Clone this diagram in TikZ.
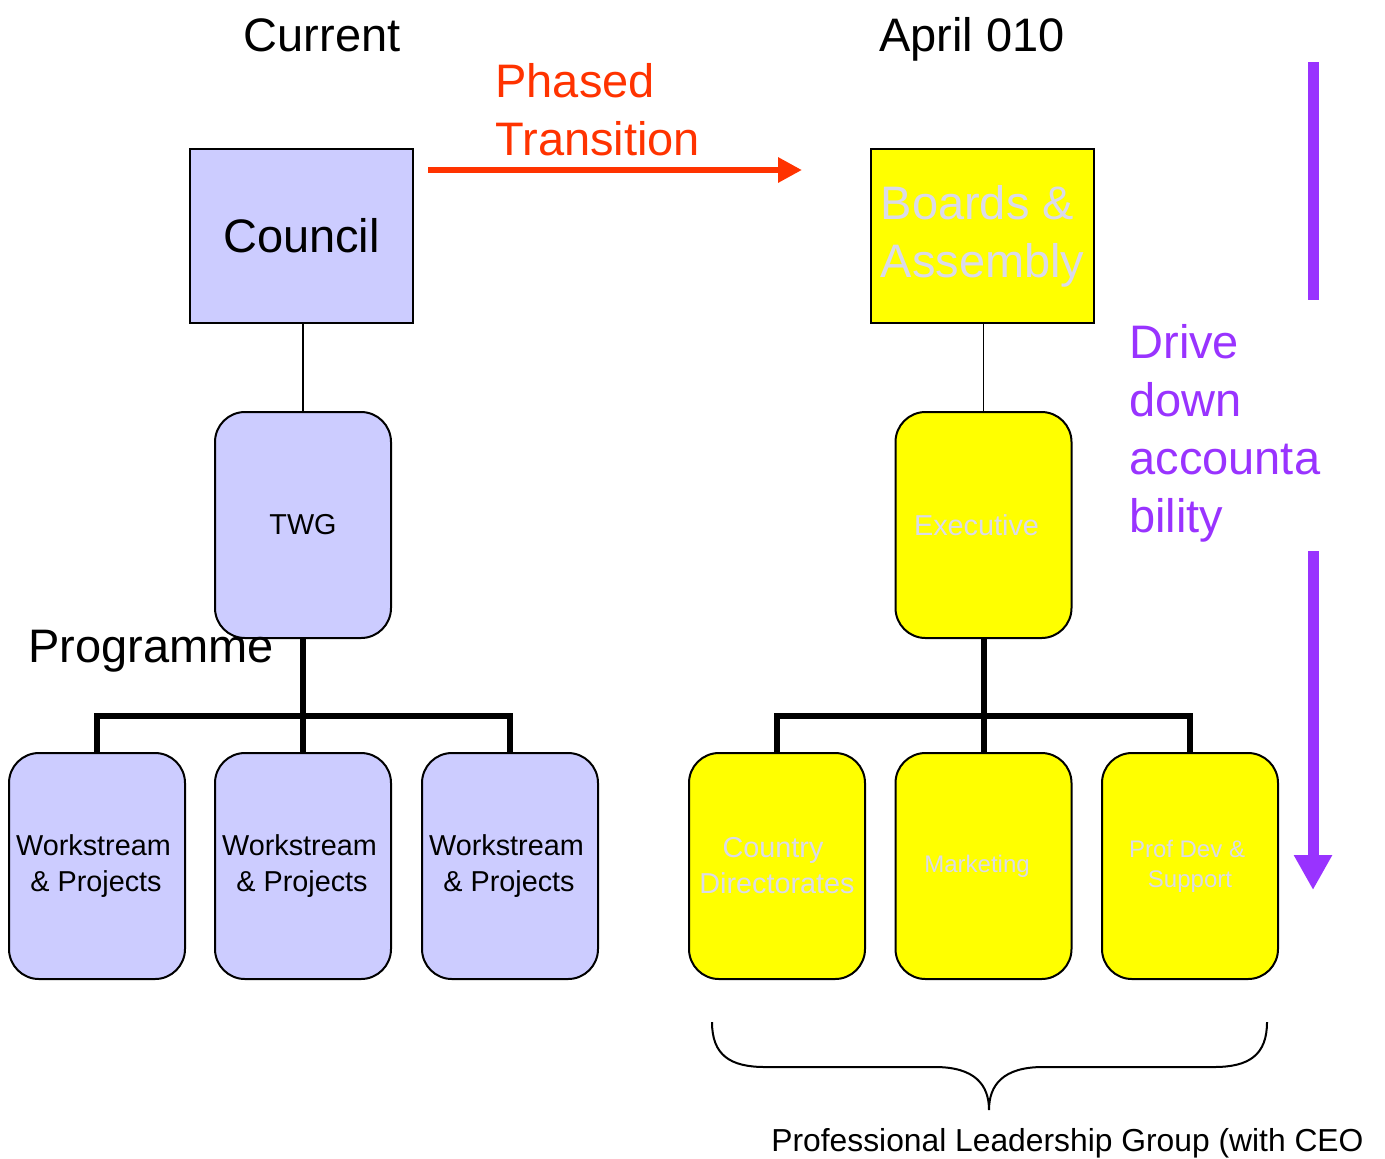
\documentclass[tikz,border=0pt]{standalone}
\usepackage{fontspec}
\setmainfont{Liberation Sans}
\usetikzlibrary{arrows.meta}
\definecolor{lav}{RGB}{204,204,255}
\definecolor{yel}{RGB}{255,255,0}
\definecolor{ghost}{RGB}{218,218,234}
\definecolor{redo}{RGB}{255,51,0}
\definecolor{purp}{RGB}{153,51,255}
\newcommand{\fsz}[2]{\fontsize{#1}{#2}\selectfont}
\newcommand{\lsh}[1]{\hspace*{#1}}
\tikzset{
  sqbox/.style={draw=black, line width=1pt, minimum width=111.5pt, minimum height=87pt, inner sep=0pt},
  rbox/.style={draw=black, line width=1pt, rounded corners=15pt, minimum width=88pt, minimum height=113pt, inner sep=0pt, align=center},
  lavbox/.style={fill=lav, text=black},
  yelbox/.style={fill=yel, text=ghost},
  thin/.style={draw=black, line width=0.75pt},
  thick/.style={draw=black, line width=3pt},
  big/.style={font=\fsz{23.5}{29}},
  mid/.style={font=\fsz{14.4}{18}},
  small/.style={font=\fsz{12}{15}},
}
\begin{document}
\begin{tikzpicture}[x=0.5pt, y=-0.5pt]
\fill[white] (0,0) rectangle (1385,1158);
\useasboundingbox (0,0) rectangle (1385,1158);

% titles
\node[big, anchor=base] (tcur) at (322,51) {Current};
\node[big, anchor=base] (tapr) at (972,51) {April 010};

% phased transition
\node[big, text=redo, anchor=base west, align=left, inner sep=0pt] (phased) at (495,155) {Phased\\Transition};
\coordinate (ra) at (428,170);
\coordinate (rb) at (802,170);
\draw[draw=redo, line width=3pt, -{Triangle[length=12pt,width=12pt]}] (ra) -- (rb);

% left hierarchy
\node[sqbox, lavbox, big] (council) at (301.5,236) {Council};
\node[rbox, lavbox, mid] (twg) at (303,525) {TWG};
\node[rbox, lavbox, mid] (ws1) at (97,866) {Workstream\lsh{3.5pt}\\\& Projects\lsh{1pt}};
\node[rbox, lavbox, mid] (ws2) at (303,866) {Workstream\lsh{3.5pt}\\\& Projects\lsh{1pt}};
\node[rbox, lavbox, mid] (ws3) at (510,866) {Workstream\lsh{3.5pt}\\\& Projects\lsh{1pt}};
\coordinate (jl) at (303,716);
\draw[thin] (council.south -| twg.north) -- (twg.north);
\draw[thick] (twg.south) -- (ws2.north);
\draw[thick, line join=miter] (ws1.north) -- (ws1.north |- jl) -- (ws3.north |- jl) -- (ws3.north);
\node[big, anchor=base west, inner sep=0pt] (prog) at (28,662) {Programme};

% right hierarchy
\node[sqbox, yelbox, big, align=left] (boards) at (982.5,236) {Boards \&\\Assembly};
\node[rbox, yelbox, mid] (exec) at (983.5,525) {Executive\lsh{7pt}};
\node[rbox, yelbox, mid] (cd) at (777,866) {Country\lsh{4pt}\\Directorates};
\node[rbox, yelbox, small] (mk) at (983.5,866) {Marketing\lsh{6.5pt}};
\node[rbox, yelbox, small] (pd) at (1190,866) {Prof Dev \&\lsh{3pt}\\Support};
\coordinate (jr) at (983.5,716);
\draw[thin] (boards.south -| exec.north) -- (exec.north);
\draw[thick] (exec.south) -- (mk.north);
\draw[thick, line join=miter] (cd.north) -- (cd.north |- jr) -- (pd.north |- jr) -- (pd.north);

% drive down accountability
\coordinate (p1) at (1313,62);
\coordinate (p2) at (1313,300);
\coordinate (p3) at (1313,551);
\coordinate (p4) at (1313,890);
\draw[draw=purp, line width=5.5pt] (p1) -- (p2);
\draw[draw=purp, line width=5.5pt, -{Triangle[length=17.5pt,width=18pt]}] (p3) -- (p4);
\node[big, text=purp, anchor=base west, align=left, inner sep=0pt] (drive) at (1129,532) {Drive\\down\\accounta\\bility};

% brace
\coordinate (b1) at (712,1022);
\coordinate (b2) at (1267,1022);
\coordinate (bt) at (989,1110);
\draw[line width=1pt] (b1) .. controls (712,1055) and (730,1067) .. (765,1067)
  -- (935,1067) .. controls (975,1067) and (989,1085) .. (bt)
  .. controls (989,1085) and (1003,1067) .. (1043,1067)
  -- (1214,1067) .. controls (1249,1067) and (1267,1055) .. (b2);
\node[font=\fsz{15.9}{18}, anchor=base west, inner sep=0pt] (plg) at (771,1151) {Professional Leadership Group (with CEO};
\end{tikzpicture}
\end{document}
